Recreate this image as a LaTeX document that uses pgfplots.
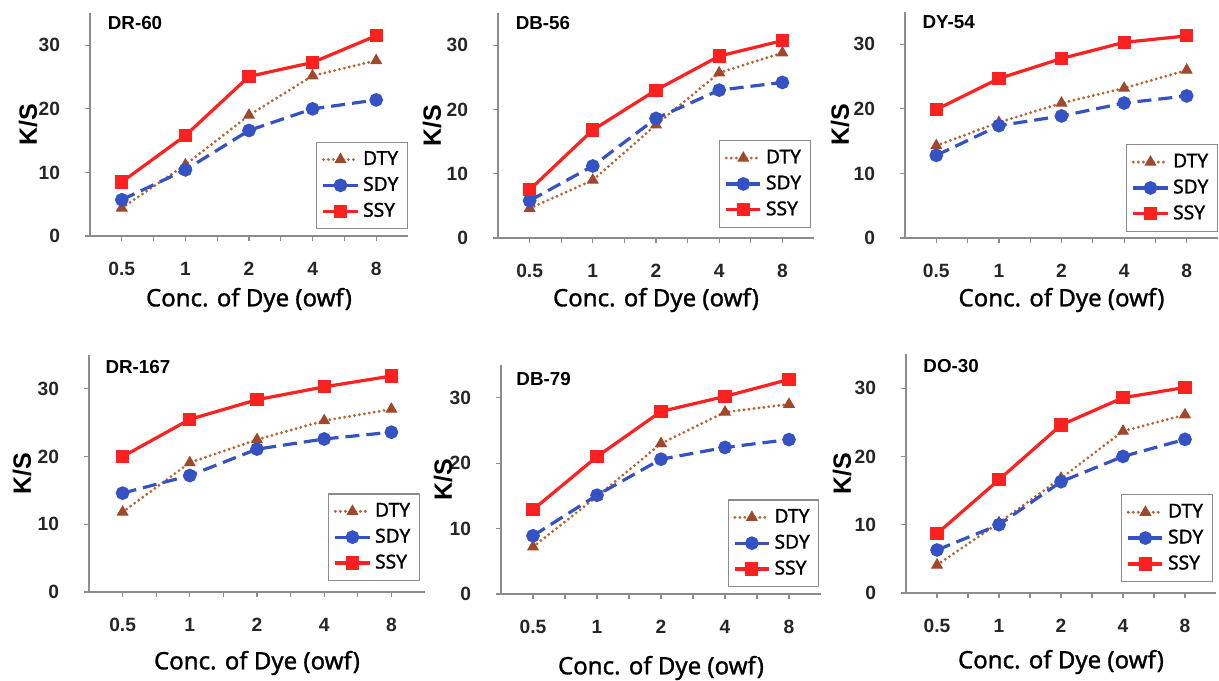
\documentclass[border=0pt]{standalone}
\usepackage{pgfplots}
\pgfplotsset{compat=1.18}
\usepackage{pgfplotstable}
\usepackage{fontspec}
\setmainfont{Liberation Sans}
\newfontfamily\ns{Noto Sans}[FakeBold=1.2]

\definecolor{ssyc}{RGB}{255,32,32}
\definecolor{sdyc}{RGB}{52,82,196}
\definecolor{dtyl}{RGB}{186,100,50}
\definecolor{dtym}{RGB}{160,72,44}
\definecolor{axgray}{RGB}{140,140,140}

% x: 0..4 = 0.5, 1, 2, 4, 8 owf
\pgfplotstableread{
x DTY SDY SSY
0 4.4 5.7 8.5
1 11.2 10.4 15.8
2 19.0 16.6 25.1
3 25.2 20.0 27.3
4 27.6 21.4 31.5
}\drsixty
\pgfplotstableread{
x DTY SDY SSY
0 4.6 5.8 7.5
1 9.0 11.2 16.8
2 17.6 18.6 23.0
3 25.7 23.0 28.3
4 28.8 24.2 30.7
}\dbfiftysix
\pgfplotstableread{
x DTY SDY SSY
0 14.3 12.8 19.9
1 17.9 17.4 24.7
2 20.9 18.9 27.8
3 23.2 20.9 30.3
4 26.0 22.0 31.3
}\dyfiftyfour
\pgfplotstableread{
x DTY SDY SSY
0 11.8 14.6 20.0
1 19.1 17.2 25.5
2 22.5 21.1 28.4
3 25.3 22.6 30.3
4 27.0 23.6 31.9
}\dronesixtyseven
\pgfplotstableread{
x DTY SDY SSY
0 7.2 8.9 12.9
1 14.9 15.1 21.0
2 23.0 20.6 27.9
3 27.8 22.4 30.2
4 29.0 23.6 32.8
}\dbseventynine
\pgfplotstableread{
x DTY SDY SSY
0 4.1 6.3 8.7
1 10.3 10.0 16.6
2 16.8 16.3 24.6
3 23.7 20.0 28.6
4 26.1 22.5 30.1
}\dothirty

\pgfplotsset{
  kspanel/.style={
    scale only axis, anchor=south west,
    xmin=-0.5, xmax=4.5, ymin=0, ymax=35,
    axis x line*=bottom, axis y line*=left,
    axis line style={-, draw=axgray, line width=0.6pt},
    xtick={0,...,4}, xticklabels={0.5,1,2,4,8},
    minor xtick={0.5,1.5,2.5,3.5},
    ytick={0,10,20,30},
    /pgf/number format/assume math mode=true,
    tick align=outside,
    major tick length=2.5pt, minor tick length=2.5pt,
    every tick/.style={draw=axgray, line width=0.6pt},
    ticklabel style={font=\fontsize{9.6}{11}\selectfont\bfseries, text=black!85},
    xticklabel style={yshift=-7pt},
    yticklabel style={xshift=-9pt},
    xlabel={Conc. of Dye (owf)}, ylabel={K/S},
    xlabel style={font=\ns\fontsize{12}{14}\selectfont},
    ylabel style={font=\bfseries\fontsize{12.5}{14}\selectfont},
    legend style={anchor=south east, draw=axgray, fill=white, line width=0.6pt,
      font=\ns\fontsize{9.6}{11}\selectfont, inner sep=2.5pt, row sep=0.5pt},
    legend cell align=left,
    clip=false,
  },
  xlab/.style={xlabel style={at={([yshift=-#1]axis description cs:0.5,0)}, anchor=center}},
  ylab/.style={ylabel style={at={([xshift=-#1]axis description cs:0,0.5)}, anchor=center}},
  dty/.style={color=dtyl, line width=1.6pt, line cap=round, dash pattern=on 0pt off 2.5pt,
    mark=triangle*, mark size=3pt, mark options={solid, fill=dtym, draw=dtym, line width=0.5pt}},
  sdy/.style={color=sdyc, line width=1.6pt, dash pattern=on 7pt off 3.5pt,
    mark=*, mark size=2.6pt, mark options={solid}},
  ssy/.style={color=ssyc, line width=1.6pt, mark=square*, mark size=2.5pt, mark options={solid}},
}
\tikzset{ttl/.style={anchor=west, inner sep=0pt, font=\fontsize{9.4}{11}\selectfont\bfseries}}

\begin{document}
\begin{tikzpicture}
\useasboundingbox (0,0) rectangle (609.5pt,340pt);

\begin{axis}[kspanel, at={(45pt,222pt)}, width=159pt, height=111.25pt,
  xlab=32pt, ylab=31pt, legend style={at={(1,0.03)}}]
\addplot[dty] table[x=x,y=DTY]{\drsixty}; \addlegendentry{DTY}
\addplot[sdy] table[x=x,y=SDY]{\drsixty}; \addlegendentry{SDY}
\addplot[ssy] table[x=x,y=SSY]{\drsixty}; \addlegendentry{SSY}
\node[ttl] at (rel axis cs:0.055,0.955) {DR-60};
\end{axis}

\begin{axis}[kspanel, at={(249pt,221pt)}, width=158pt, height=112.5pt,
  xlab=31pt, ylab=33pt, legend style={at={(0.99,0.045)}}]
\addplot[dty] table[x=x,y=DTY]{\dbfiftysix}; \addlegendentry{DTY}
\addplot[sdy] table[x=x,y=SDY]{\dbfiftysix}; \addlegendentry{SDY}
\addplot[ssy] table[x=x,y=SSY]{\dbfiftysix}; \addlegendentry{SSY}
\node[ttl] at (rel axis cs:0.055,0.955) {DB-56};
\end{axis}

\begin{axis}[kspanel, at={(452.5pt,221pt)}, width=156.5pt, height=113pt,
  xlab=31pt, ylab=32.5pt, legend style={at={(1,0.027)}}]
\addplot[dty] table[x=x,y=DTY]{\dyfiftyfour}; \addlegendentry{DTY}
\addplot[sdy] table[x=x,y=SDY]{\dyfiftyfour}; \addlegendentry{SDY}
\addplot[ssy] table[x=x,y=SSY]{\dyfiftyfour}; \addlegendentry{SSY}
\node[ttl] at (rel axis cs:0.055,0.955) {DY-54};
\end{axis}

\begin{axis}[kspanel, at={(44.5pt,44pt)}, width=168pt, height=118.5pt,
  xlab=35.5pt, ylab=33.5pt, legend style={at={(0.985,0.046)}}]
\addplot[dty] table[x=x,y=DTY]{\dronesixtyseven}; \addlegendentry{DTY}
\addplot[sdy] table[x=x,y=SDY]{\dronesixtyseven}; \addlegendentry{SDY}
\addplot[ssy] table[x=x,y=SSY]{\dronesixtyseven}; \addlegendentry{SSY}
\node[ttl] at (rel axis cs:0.048,0.95) {DR-167};
\end{axis}

\begin{axis}[kspanel, at={(250.5pt,43pt)}, width=160pt, height=114.5pt,
  xlab=37pt, ylab=29pt, legend style={at={(0.995,0.03)}}]
\addplot[dty] table[x=x,y=DTY]{\dbseventynine}; \addlegendentry{DTY}
\addplot[sdy] table[x=x,y=SDY]{\dbseventynine}; \addlegendentry{SDY}
\addplot[ssy] table[x=x,y=SSY]{\dbseventynine}; \addlegendentry{SSY}
\node[ttl] at (rel axis cs:0.047,0.94) {DB-79};
\end{axis}

\begin{axis}[kspanel, at={(453pt,43.5pt)}, width=155pt, height=119.5pt,
  xlab=34.5pt, ylab=32pt, legend style={at={(0.99,0.046)}}]
\addplot[dty] table[x=x,y=DTY]{\dothirty}; \addlegendentry{DTY}
\addplot[sdy] table[x=x,y=SDY]{\dothirty}; \addlegendentry{SDY}
\addplot[ssy] table[x=x,y=SSY]{\dothirty}; \addlegendentry{SSY}
\node[ttl] at (rel axis cs:0.055,0.95) {DO-30};
\end{axis}
\end{tikzpicture}
\end{document}
